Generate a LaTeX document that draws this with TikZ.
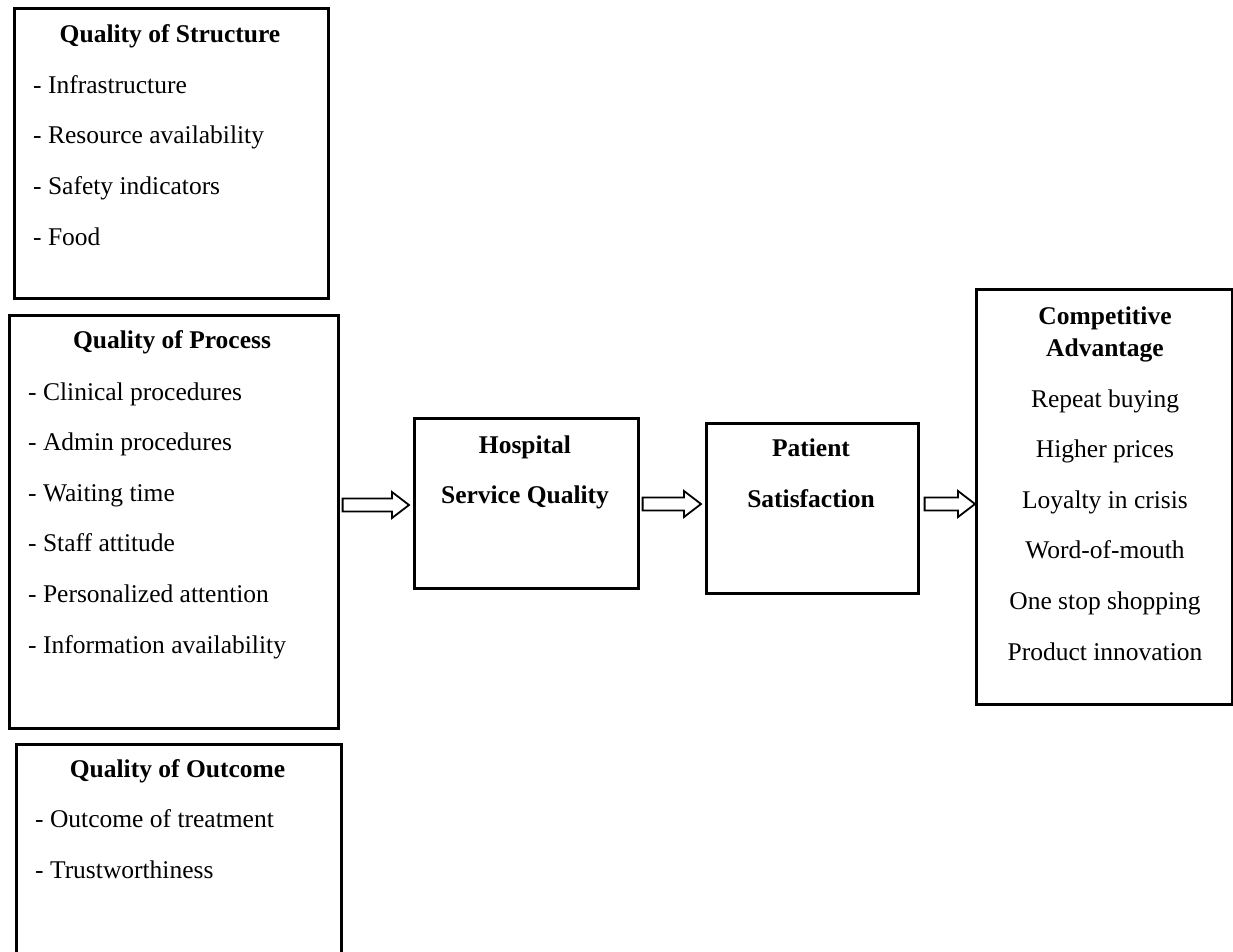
\documentclass[tikz,border=0pt]{standalone}
\usepackage{fontspec}
\setmainfont{Liberation Serif}
\usetikzlibrary{calc}
\newcommand\fatarrow[2]{%
  \draw[fatarr] let \p1=(#1), \p2=(#2) in
    (\x1,\y1+6.5pt) -- (\x2-17pt,\y1+6.5pt) -- (\x2-17pt,\y1+13pt) -- (\x2,\y1)
    -- (\x2-17pt,\y1-13pt) -- (\x2-17pt,\y1-6.5pt) -- (\x1,\y1-6.5pt) -- cycle;}
\begin{document}
\begin{tikzpicture}[x=1pt,y=-1pt,
  box/.style={draw,line width=2.6pt,inner sep=0pt,anchor=north west},
  ttl/.style={anchor=base,font=\fontsize{25.5}{30}\selectfont\bfseries,inner sep=0pt},
  itm/.style={anchor=base west,font=\fontsize{25.5}{30}\selectfont,inner sep=0pt},
  citm/.style={anchor=base,font=\fontsize{25.5}{30}\selectfont,inner sep=0pt},
  fatarr/.style={draw,line width=1.8pt,line join=miter,fill=white}]
\useasboundingbox (0,0) rectangle (1233,951);
\clip (0,0) rectangle (1233,951);
\fill[white] (0,0) rectangle (1233,951);

% boxes
\node[box,minimum width=314pt,minimum height=290pt] (S) at (13,7) {};
\node[box,minimum width=329pt,minimum height=413pt] (P) at (8,314) {};
\node[box,minimum width=325pt,minimum height=260pt] (O) at (15,743) {};
\node[box,minimum width=224pt,minimum height=170pt] (H) at (413,417) {};
\node[box,minimum width=212pt,minimum height=170pt] (PS) at (705,422) {};
\node[box,minimum width=256pt,minimum height=415pt] (C) at (975,288) {};

% Quality of Structure
\node[ttl] (St) at (170,42) {Quality of Structure};
\foreach \t [count=\i] in {Infrastructure,Resource availability,Safety indicators,Food}
  \node[itm] (S\i) at (33,{93+50.7*(\i-1)}) {- \t};

% Quality of Process
\node[ttl] (Pt) at (172,348) {Quality of Process};
\foreach \t [count=\i] in {Clinical procedures,Admin procedures,Waiting time,Staff attitude,Personalized attention,Information availability}
  \node[itm] (P\i) at (28,{400+50.6*(\i-1)}) {- \t};

% Quality of Outcome
\node[ttl] (Ot) at (177.5,777) {Quality of Outcome};
\foreach \t [count=\i] in {Outcome of treatment,Trustworthiness}
  \node[itm] (O\i) at (35,{827+51*(\i-1)}) {- \t};

% Hospital Service Quality
\node[ttl] (H1) at (525,453) {Hospital};
\node[ttl] (H2) at (525,503) {Service Quality};

% Patient Satisfaction
\node[ttl] (PS1) at (811,456) {Patient};
\node[ttl] (PS2) at (811,507) {Satisfaction};

% Competitive Advantage
\node[ttl] (C1) at (1105,324) {Competitive};
\node[ttl] (C2) at (1105,356) {Advantage};
\foreach \t [count=\i] in {Repeat buying,Higher prices,Loyalty in crisis,Word-of-mouth,One stop shopping,Product innovation}
  \node[citm] (C\i i) at (1105,{407+50.6*(\i-1)}) {\t};

% arrows
\coordinate (a1s) at ($(P.east |- 0,505)+(3,0)$);
\coordinate (a1e) at ($(H.west |- 0,505)+(-4,0)$);
\coordinate (a2s) at ($(H.east |- 0,504)+(3,0)$);
\coordinate (a2e) at ($(PS.west |- 0,504)+(-4,0)$);
\coordinate (a3s) at ($(PS.east |- 0,504)+(5,0)$);
\coordinate (a3e) at (C.west |- 0,504);
\fatarrow{a1s}{a1e}
\fatarrow{a2s}{a2e}
\fatarrow{a3s}{a3e}
\end{tikzpicture}
\end{document}
